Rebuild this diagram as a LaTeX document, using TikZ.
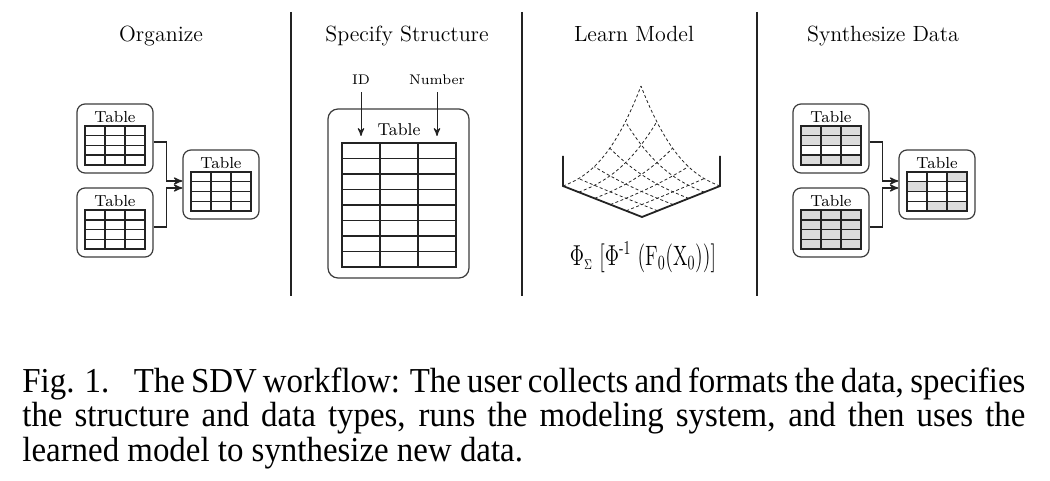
\documentclass[tikz,border=0pt]{standalone}
\usepackage{amsmath}
\usepackage{fontspec}
\newfontfamily\capfont[FakeStretch=0.94]{Liberation Serif}
\usetikzlibrary{arrows}
\usetikzlibrary{positioning}

\begin{document}
\begin{tikzpicture}[x=0.5pt,y=-0.5pt,>=stealth',
	heading/.style={anchor=base,font=\fontsize{11}{13}\selectfont},
	small/.style={anchor=base,font=\fontsize{7}{8}\selectfont},
	tbllabel/.style={anchor=base,inner sep=0pt,font=\fontsize{8}{9}\selectfont},
	tblbox/.style={draw=boxgray,line width=0.6pt,rounded corners=4pt,
		minimum width=38pt,minimum height=34.5pt,inner sep=0pt},
	cell/.style={draw=ink,line width=0.75pt,line cap=rect},
	flow/.style={->,draw=ink,line width=0.6pt},
	divider/.style={draw=ink,line width=1pt},
	surf/.style={draw=ink,line width=0.4pt,dash pattern=on 1.5pt off 1.2pt},
	pics/tbl/.style={code={
		\node[tblbox] (-box) at (38,34.5) {};
		\node[tbllabel] (-lbl) at (38,18.5) {Table};
		\foreach \c/\r in {#1}
			\fill[cellgray] (8+20*\c,22+9.75*\r) rectangle ++(20,9.75);
		\foreach \r in {0,...,4}
			\draw[cell] (8,22+9.75*\r) -- (68,22+9.75*\r);
		\foreach \c in {0,...,3}
			\draw[cell] (8+20*\c,22) -- (8+20*\c,61);
	}}]
	
	\definecolor{ink}{RGB}{35,35,35}
	\definecolor{boxgray}{RGB}{60,60,60}
	\definecolor{cellgray}{RGB}{220,220,220}
	
	\useasboundingbox (0,0) rectangle (1050,481);
	
	% steps
	\node[heading] (org) at (161,42) {Organize};
	\node[heading] (spec) at (407,42) {Specify Structure};
	\node[heading] (learn) at (634,42) {Learn Model};
	\node[heading] (synth) at (883,42) {Synthesize Data};
	\draw[divider] (291,12) -- (291,296);
	\draw[divider] (522,12) -- (522,296);
	\draw[divider] (757,12) -- (757,296);
	
	% organize
	\pic (oa) at (77,104) {tbl={}};
	\pic (ob) at (77,188) {tbl={}};
	\pic (oc) at (183,150) {tbl={}};
	\draw[flow] ([yshift=-1.75pt]oa-box.east) -- ++(13,0) |- ([yshift=1.75pt]oc-box.west);
	\draw[flow] ([yshift=-2.25pt]ob-box.east) -- ++(13,0) |- ([yshift=-1.75pt]oc-box.west);
	
	% specify structure
	\node[draw=boxgray,line width=0.6pt,rounded corners=5pt,inner sep=0pt,
		minimum width=70.5pt,minimum height=84.5pt] (bigbox) at (398.5,193.5) {};
	\node[tbllabel,font=\fontsize{8.6}{10}\selectfont] (biglbl) at (399,135) {Table};
	\foreach \r in {0,...,8}
		\draw[cell] (342,143+15.5*\r) -- (456,143+15.5*\r);
	\foreach \c in {0,...,3}
		\draw[cell] (342+38*\c,143) -- (342+38*\c,267);
	\node[small] (id) at (361,85) {ID};
	\node[small] (num) at (437,85) {Number};
	\coordinate (idend) at (361,136);
	\coordinate (numend) at (437,136);
	\draw[->,ink,line width=0.5pt] (id) -- (idend);
	\draw[->,ink,line width=0.5pt] (num) -- (numend);
	
	% learn model
	\coordinate (lfront) at (642,217);
	\coordinate (lleft) at (563,186);
	\coordinate (lright) at (720,186);
	\draw[ink,line width=0.9pt] (563,156) -- (lleft) -- (lfront) -- (lright) -- (720,156);
	\foreach \u in {0.2,0.4,0.6,0.8,1} {
		\draw[surf] plot[domain=0:1,samples=40,variable=\t]
			({642-79*\u+78*\t},{217-31*\u-31*\t-69*(\u*\t)^2*sqrt(\u*\t)});
		\draw[surf] plot[domain=0:1,samples=40,variable=\t]
			({642-79*\t+78*\u},{217-31*\t-31*\u-69*(\t*\u)^2*sqrt(\t*\u)});
	}
	\node[font=\fontsize{14}{16}\selectfont] (copula) at (643,257)
		{\scalebox{0.7}[1]{$\Phi_{\scriptscriptstyle\Sigma}\ [\Phi^{\text{-1}}\ (\mathrm{F}_0(\mathrm{X}_0))]$}};
	
	% synthesize
	\pic (sa) at (793,104) {tbl={0/0,1/0,2/0,0/1,1/1,2/1,0/3,1/3,2/3}};
	\pic (sb) at (793,188) {tbl={0/0,1/0,2/0,0/1,1/1,2/1,0/2,1/2,2/2,0/3,1/3,2/3}};
	\pic (sc) at (899,150) {tbl={2/0,0/1,1/3,2/3}};
	\draw[flow] ([yshift=-1.75pt]sa-box.east) -- ++(13,0) |- ([yshift=1.75pt]sc-box.west);
	\draw[flow] ([yshift=-2.25pt]sb-box.east) -- ++(13,0) |- ([yshift=-1.75pt]sc-box.west);
	
	% caption
	\node[anchor=north west,inner sep=0pt,text width=501.5pt,align=justify,
		font=\capfont\fontsize{17.5}{17.25}\selectfont] (caption) at (22,367)
		{Fig. 1.\hspace{0.7em}The SDV workflow: The user collects and formats the data, specifies\linebreak
		the structure and data types, runs the modeling system, and then uses the\linebreak
		learned model to synthesize new data.};
\end{tikzpicture}
\end{document}
